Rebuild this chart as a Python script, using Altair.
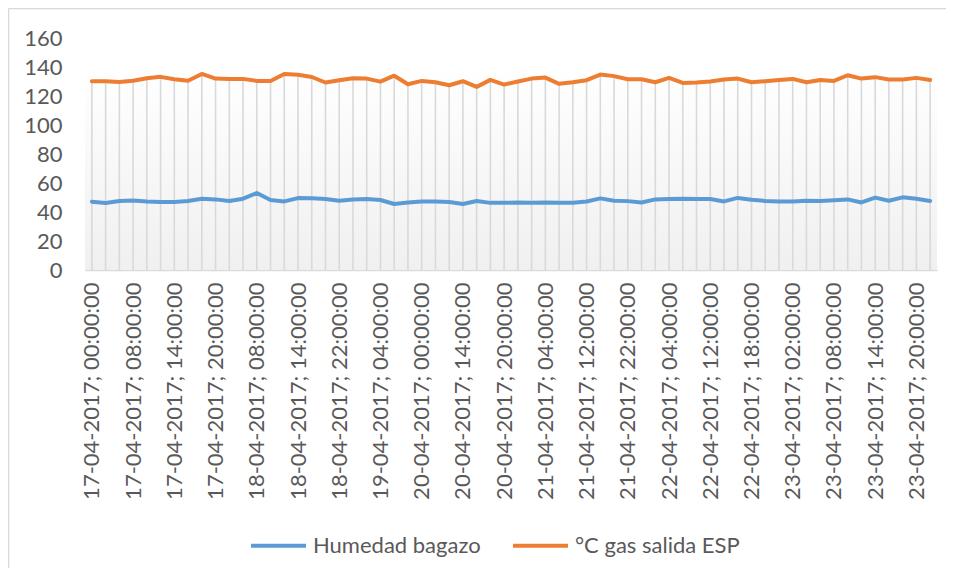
import altair as alt
import pandas as pd

tick_labels = [
    "17-04-2017; 00:00:00", "17-04-2017; 08:00:00", "17-04-2017; 14:00:00",
    "17-04-2017; 20:00:00", "18-04-2017; 08:00:00", "18-04-2017; 14:00:00",
    "18-04-2017; 22:00:00", "19-04-2017; 04:00:00", "20-04-2017; 00:00:00",
    "20-04-2017; 14:00:00", "20-04-2017; 20:00:00", "21-04-2017; 04:00:00",
    "21-04-2017; 12:00:00", "21-04-2017; 22:00:00", "22-04-2017; 04:00:00",
    "22-04-2017; 12:00:00", "22-04-2017; 18:00:00", "23-04-2017; 02:00:00",
    "23-04-2017; 08:00:00", "23-04-2017; 14:00:00", "23-04-2017; 20:00:00",
]

humedad = [
    47.1, 46.2, 47.6, 48.0, 47.3, 46.9, 46.9, 47.6, 49.2, 48.7,
    47.6, 49.2, 53.1, 48.3, 47.3, 49.6, 49.5, 49.0, 47.8, 48.7,
    49.0, 48.3, 45.5, 46.6, 47.3, 47.2, 46.9, 45.5, 47.6, 46.3,
    46.3, 46.6, 46.3, 46.6, 46.3, 46.3, 47.2, 49.4, 47.8, 47.5,
    46.6, 48.7, 49.0, 49.2, 49.0, 49.0, 47.3, 49.7, 48.5, 47.6,
    47.2, 47.2, 47.8, 47.6, 48.1, 48.7, 46.6, 49.9, 47.8, 50.1,
    49.2, 47.6,
]

gas = [
    130.2, 130.2, 129.7, 130.5, 132.3, 133.2, 131.6, 130.5, 135.2, 132.0,
    131.8, 131.8, 130.4, 130.4, 135.2, 134.6, 133.1, 129.3, 130.9, 132.3,
    132.0, 129.9, 134.0, 128.1, 130.4, 129.5, 127.4, 130.2, 126.3, 131.1,
    127.9, 130.0, 132.0, 132.7, 128.4, 129.5, 130.9, 134.8, 133.7, 131.6,
    131.6, 129.5, 132.5, 129.0, 129.3, 130.0, 131.4, 132.0, 129.5, 130.2,
    131.1, 131.8, 129.5, 131.1, 130.4, 134.3, 132.0, 133.0, 131.4, 131.4,
    132.5, 131.1,
]

series_names = ["Humedad bagazo", "°C gas salida ESP"]
series_colors = ["#5B9BD5", "#ED7D31"]
label_every = 3

n = len(gas)
df = pd.DataFrame({"idx": list(range(n)), "hum": humedad, "gas": gas})
long_df = pd.concat([
    pd.DataFrame({"idx": list(range(n)), "serie": series_names[0], "valor": humedad}),
    pd.DataFrame({"idx": list(range(n)), "serie": series_names[1], "valor": gas}),
])
band_df = pd.DataFrame({"x0": [-0.5], "x1": [n - 0.5], "top": [140], "bottom": [0]})

FONT = "Lato"
GREY = "#595959"
LINEC = "#d9d9d9"

label_expr = "[" + ",".join("'" + s + "'" for s in tick_labels) + "][round(datum.value/%d)]" % label_every

xscale = alt.Scale(domain=[-0.5, n - 0.5], nice=False, zero=False)
yscale = alt.Scale(domain=[0, 160], nice=False)

xaxis = alt.Axis(
    values=list(range(0, n, label_every)), labelExpr=label_expr, labelAngle=-90,
    labelAlign="right", labelBaseline="middle", labelPadding=12, ticks=False,
    grid=False, domainColor=LINEC, domainWidth=1.5, title=None,
    labelFont=FONT, labelFontSize=22, labelColor=GREY, labelOverlap=False,
    labelBound=False, labelFlush=False, labelLimit=0,
)
yaxis = alt.Axis(
    values=list(range(0, 161, 20)), ticks=False, grid=False, domain=False,
    title=None, labelFont=FONT, labelFontSize=22, labelColor=GREY, labelPadding=23,
)

bg = alt.Chart(band_df).mark_rect(
    color=alt.Gradient(
        gradient="linear", x1=0, x2=0, y1=0, y2=1,
        stops=[alt.GradientStop(color="#ffffff", offset=0),
               alt.GradientStop(color="#f0f0f0", offset=1)],
    )
).encode(
    x=alt.X("x0:Q", scale=xscale, axis=xaxis),
    x2="x1:Q",
    y=alt.Y("top:Q", scale=yscale, axis=yaxis),
    y2="bottom:Q",
)

drops = alt.Chart(df).mark_rule(color=LINEC, strokeWidth=1.6).encode(
    x=alt.X("idx:Q", scale=xscale, axis=xaxis),
    y=alt.Y("gas:Q", scale=yscale, axis=yaxis),
    y2=alt.datum(0),
)

lines = alt.Chart(long_df).mark_line(strokeWidth=4, strokeCap="round", strokeJoin="round").encode(
    x=alt.X("idx:Q", scale=xscale, axis=xaxis),
    y=alt.Y("valor:Q", scale=yscale, axis=yaxis),
    color=alt.Color(
        "serie:N",
        scale=alt.Scale(domain=series_names, range=series_colors),
        sort=series_names,
        legend=alt.Legend(
            title=None, orient="none", direction="horizontal", legendX=164, legendY=478,
            symbolType="stroke", symbolSize=3025, symbolStrokeWidth=4,
            labelFont=FONT, labelFontSize=22, labelColor=GREY, labelOffset=5,
            columnPadding=24, padding=0, labelLimit=0,
        ),
    ),
    order="idx:Q",
)

border_v = alt.Chart(band_df).mark_rule(color=LINEC, strokeWidth=1.5).encode(
    x=alt.value(-76.5), y=alt.value(-29.5), y2=alt.value(540),
)
border_h = alt.Chart(band_df).mark_rule(color=LINEC, strokeWidth=1.5).encode(
    x=alt.value(-76.5), x2=alt.value(870), y=alt.value(-29.5),
)

chart = alt.layer(bg, drops, lines, border_v, border_h).properties(
    width=852, height=232,
    background="white",
    autosize=alt.AutoSizeParams(type="none"),
    padding={"left": 77, "top": 30, "right": 9, "bottom": 298},
).configure_view(stroke="transparent", strokeWidth=0)

chart.save("out.html", embed_options={"renderer": "svg", "actions": False})
